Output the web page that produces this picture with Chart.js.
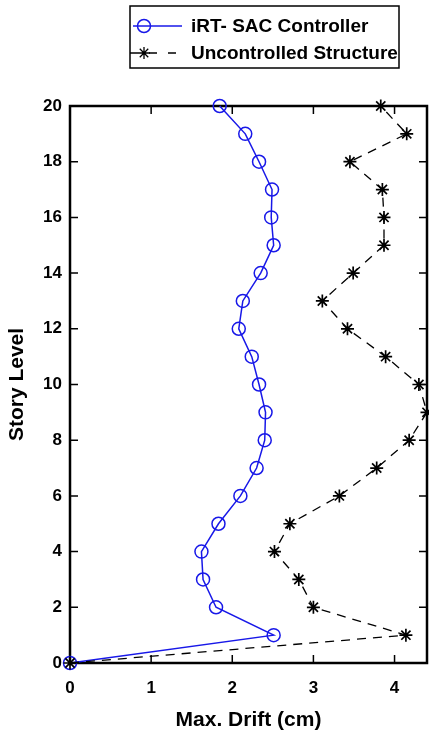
<!DOCTYPE html>
<html>
<head>
<meta charset="utf-8">
<script src="https://cdn.jsdelivr.net/npm/chart.js@4"></script>
<style>
  html, body { margin: 0; padding: 0; background: #fff; }
  #wrap { width: 429px; height: 740px; position: relative; }
</style>
</head>
<body>
<div id="wrap"><canvas id="graph" width="429" height="740"></canvas></div>
<script>
// story levels (y) and max drift (x, cm)
const levels = [0, 1, 2, 3, 4, 5, 6, 7, 8, 9, 10, 11, 12, 13, 14, 15, 16, 17, 18, 19, 20];
const controlledDrift = [0, 2.51, 1.80, 1.64, 1.62, 1.83, 2.10, 2.30, 2.40, 2.41, 2.33,
  2.24, 2.08, 2.13, 2.35, 2.51, 2.48, 2.49, 2.33, 2.16, 1.845];
const uncontrolledDrift = [0, 4.14, 3.00, 2.82, 2.52, 2.71, 3.32, 3.78, 4.18, 4.40, 4.30,
  3.89, 3.42, 3.11, 3.49, 3.87, 3.87, 3.85, 3.45, 4.15, 3.83];
const seriesNames = ["iRT- SAC Controller", "Uncontrolled Structure"];
const xTicks = [0, 1, 2, 3, 4];
const yTicks = [0, 2, 4, 6, 8, 10, 12, 14, 16, 18, 20];

const FONT = "'Liberation Sans', Arial, sans-serif";
const BLUE = "#1818e8";

const toPoints = (xs) => xs.map((x, i) => ({ x: x, y: levels[i] }));

// box around the axes with inward tick marks (matlab style)
const framePlugin = {
  id: "frame",
  beforeDatasetsDraw(chart) {
    const { ctx, chartArea: a, scales } = chart;
    const len = 8;
    ctx.save();
    ctx.strokeStyle = "#000";
    ctx.lineWidth = 1.5;
    scales.x.ticks.forEach((t) => {
      const px = scales.x.getPixelForValue(t.value);
      ctx.beginPath();
      ctx.moveTo(px, a.top); ctx.lineTo(px, a.top + len);
      ctx.moveTo(px, a.bottom); ctx.lineTo(px, a.bottom - len);
      ctx.stroke();
    });
    scales.y.ticks.forEach((t) => {
      const py = scales.y.getPixelForValue(t.value);
      ctx.beginPath();
      ctx.moveTo(a.left, py); ctx.lineTo(a.left + len, py);
      ctx.moveTo(a.right, py); ctx.lineTo(a.right - len, py);
      ctx.stroke();
    });
    ctx.lineWidth = 2.5;
    ctx.strokeRect(a.left, a.top, a.right - a.left, a.bottom - a.top);
    ctx.restore();
  },
};

// boxed legend at the top
const legendBox = {
  id: "legendBox",
  afterDraw(chart) {
    const ctx = chart.ctx;
    const bx = 130, by = 6, bw = 269, bh = 62;
    ctx.save();
    ctx.strokeStyle = "#000";
    ctx.lineWidth = 1.5;
    ctx.strokeRect(bx, by, bw, bh);

    // row 1 : blue line + circle
    let y = 26;
    ctx.strokeStyle = BLUE;
    ctx.lineWidth = 1.5;
    ctx.beginPath(); ctx.moveTo(133, y); ctx.lineTo(182, y); ctx.stroke();
    ctx.beginPath(); ctx.arc(144, y, 6.5, 0, Math.PI * 2); ctx.stroke();

    // row 2 : dashed black + star
    y = 53;
    ctx.strokeStyle = "#000";
    ctx.lineWidth = 1.3;
    ctx.setLineDash([8, 11]);
    ctx.beginPath(); ctx.moveTo(130, y); ctx.lineTo(182, y); ctx.stroke();
    ctx.setLineDash([]);
    const r = 6;
    ctx.beginPath();
    ctx.moveTo(144 - r, y); ctx.lineTo(144 + r, y);
    ctx.moveTo(144, y - r); ctx.lineTo(144, y + r);
    const d = r * Math.SQRT1_2;
    ctx.moveTo(144 - d, y - d); ctx.lineTo(144 + d, y + d);
    ctx.moveTo(144 - d, y + d); ctx.lineTo(144 + d, y - d);
    ctx.stroke();

    ctx.fillStyle = "#000";
    ctx.font = "bold 19px " + FONT;
    ctx.textBaseline = "middle";
    ctx.fillText(seriesNames[0], 191, 27);
    ctx.fillText(seriesNames[1], 191, 54);
    ctx.restore();
  },
};

new Chart(document.getElementById("graph"), {
  type: "scatter",
  data: {
    datasets: [
      {
        label: seriesNames[1],
        data: toPoints(uncontrolledDrift),
        showLine: true,
        borderColor: "#000",
        borderWidth: 1.3,
        borderDash: [9, 7],
        pointStyle: "star",
        pointRadius: 6.5,
        pointBorderWidth: 1.7,
        pointBorderColor: "#000",
        pointBackgroundColor: "#000",
        clip: false,
      },
      {
        label: seriesNames[0],
        data: toPoints(controlledDrift),
        showLine: true,
        borderColor: BLUE,
        borderWidth: 1.5,
        pointStyle: "circle",
        pointRadius: 6.5,
        pointBorderWidth: 1.5,
        pointBorderColor: BLUE,
        pointBackgroundColor: "rgba(0,0,0,0)",
        clip: false,
      },
    ],
  },
  options: {
    responsive: false,
    animation: false,
    layout: { autoPadding: false, padding: { top: 106, right: 2, left: 5, bottom: 7 } },
    plugins: {
      legend: { display: false },
      tooltip: { enabled: false },
    },
    scales: {
      x: {
        type: "linear",
        min: 0,
        max: 4.4,
        afterBuildTicks: (s) => { s.ticks = xTicks.map((v) => ({ value: v })); },
        afterFit: (s) => { s.height = 70; s.paddingRight = 0; },
        grid: { display: false, drawTicks: false },
        border: { display: false },
        ticks: {
          padding: 15,
          color: "#000",
          font: { family: FONT, size: 17, weight: "bold" },
        },
        title: {
          display: true,
          text: "Max. Drift (cm)",
          color: "#000",
          padding: { top: 0, bottom: 0 },
          font: { family: FONT, size: 21, weight: "bold" },
        },
      },
      y: {
        type: "linear",
        min: 0,
        max: 20,
        afterBuildTicks: (s) => { s.ticks = yTicks.map((v) => ({ value: v })); },
        afterFit: (s) => { s.width = 65; },
        grid: { display: false, drawTicks: false },
        border: { display: false },
        ticks: {
          padding: 8,
          color: "#000",
          font: { family: FONT, size: 17, weight: "bold" },
        },
        title: {
          display: true,
          text: "Story Level",
          color: "#000",
          padding: { top: 0, bottom: 0 },
          font: { family: FONT, size: 21, weight: "bold" },
        },
      },
    },
  },
  plugins: [framePlugin, legendBox],
});
</script>
</body>
</html>
